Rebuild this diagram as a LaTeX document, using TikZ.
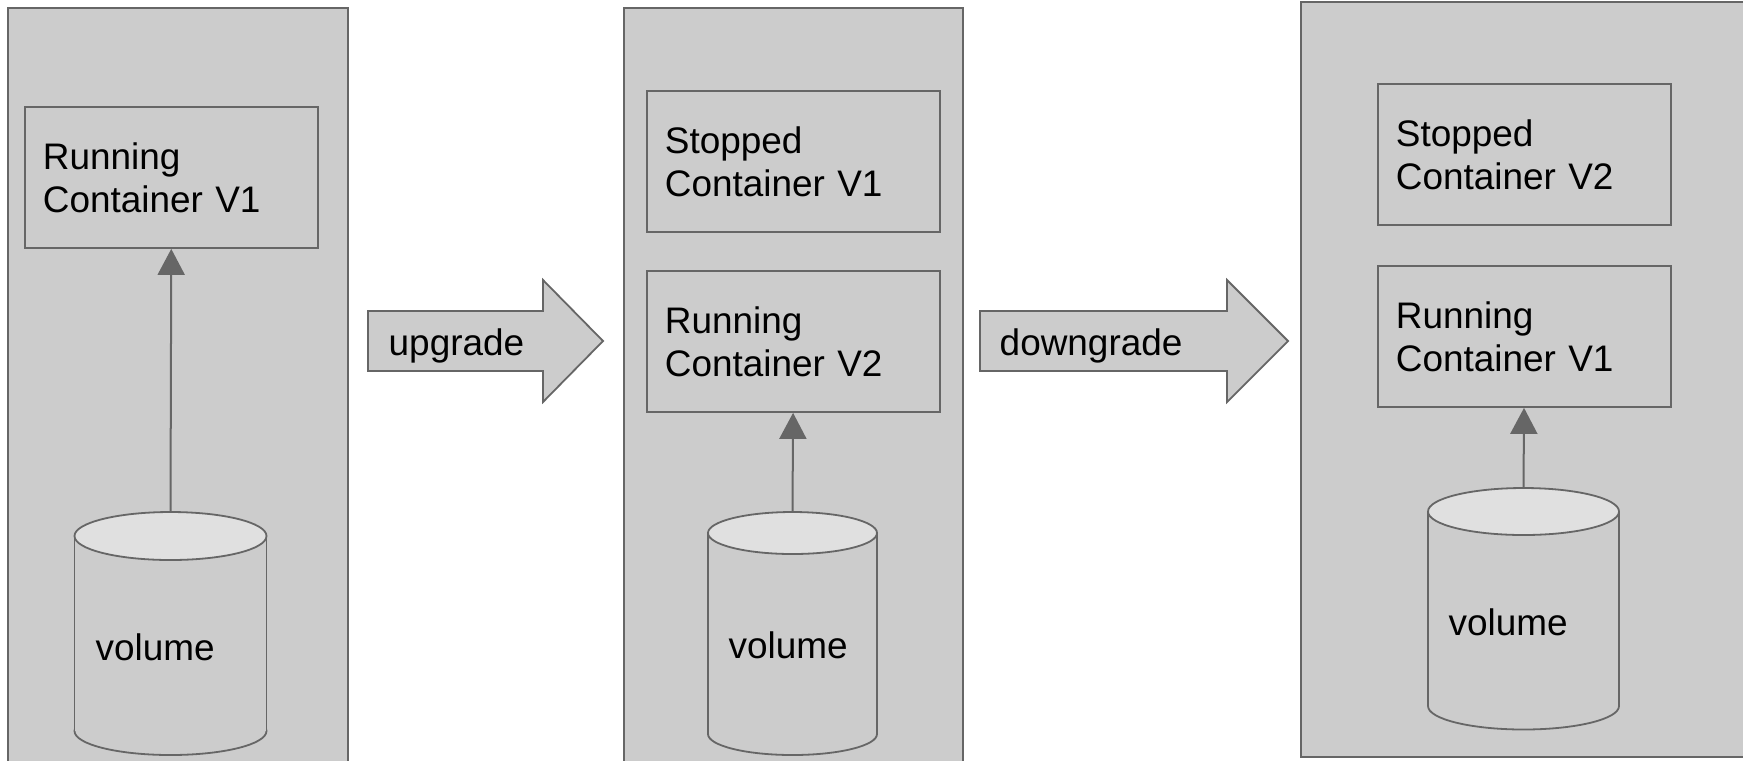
\documentclass[tikz,border=0pt]{standalone}
\usepackage{fontspec}
\setmainfont{Liberation Sans}
\usetikzlibrary{arrows.meta}
\definecolor{panelgray}{HTML}{CCCCCC}
\definecolor{topgray}{HTML}{E0E0E0}
\definecolor{edgegray}{HTML}{666666}
\tikzset{
x=0.01cm, y=-0.01cm, % one unit is one pixel of the sketch, y grows downwards
every node/.style={font=\fontsize{10.5}{12.2}\selectfont},
stage/.style={draw=edgegray, fill=panelgray, line width=0.018cm}, % the host panels
ctrbox/.style={draw=edgegray, fill=panelgray, line width=0.018cm, anchor=north west,
  minimum width=2.93cm, minimum height=1.41cm, text width=2.57cm, inner xsep=0.18cm, align=left}, % a container
drumline/.style={draw=edgegray, line width=0.018cm},
bigarrow/.style={draw=edgegray, fill=panelgray, line width=0.018cm}, % upgrade / downgrade
lbl/.style={anchor=base west, inner sep=0pt},
feed/.style={draw=edgegray, line width=0.02cm, -{Triangle[width=0.27cm, length=0.26cm]}}, % volume to container
}
% #1 name of the top point, #2 centre x, #3 top y, #4 bottom y, #5 x radius, #6 y radius
\newcommand{\drum}[6]{%
\draw[drumline, fill=panelgray] (#2,#4) ellipse [x radius=#5, y radius=#6];
\fill[panelgray] (#2-#5,#3) rectangle (#2+#5,#4);
\draw[drumline] (#2-#5,#3) -- (#2-#5,#4) (#2+#5,#3) -- (#2+#5,#4);
\draw[drumline, fill=topgray] (#2,#3) ellipse [x radius=#5, y radius=#6];
\coordinate (#1) at (#2,#3-#6);
}

\begin{document}
\begin{tikzpicture}
\useasboundingbox (0,0) rectangle (1743,760);
\clip (0,0) rectangle (1743,760);

% panels
\draw[stage] (8,8) rectangle (348,770);
\draw[stage] (624,8) rectangle (963,770);
\draw[stage] (1301,2) rectangle (1760,757);

% containers
\node[ctrbox] (run1) at (24,106) {Running\\Container V1};
\node[ctrbox] (stop1) at (646,90) {Stopped\\Container V1};
\node[ctrbox] (run2) at (646,270) {Running\\Container V2};
\node[ctrbox] (stop2) at (1377,83) {Stopped\\Container V2};
\node[ctrbox] (run3) at (1377,265) {Running\\Container V1};

% volumes
\drum{vol1}{170.5}{536}{731}{96}{24}
\drum{vol2}{792.5}{533}{734}{84.5}{21}
\drum{vol3}{1523.5}{511.5}{706}{95.5}{23.5}
\node[lbl] (v1) at (95,660) {volume};
\node[lbl] (v2) at (728,658) {volume};
\node[lbl] (v3) at (1448,635) {volume};

% edges
\path (vol1) edge [feed] (run1); % volume to V1
\path (vol2) edge [feed] (run2); % volume to V2
\path (vol3) edge [feed] (run3); % volume back to V1

% transitions
\draw[bigarrow] (368,311) -- (543,311) -- (543,280) -- (603,341) -- (543,402) -- (543,371) -- (368,371) -- cycle;
\node[lbl] (up) at (388,355) {upgrade};
\draw[bigarrow] (980,311) -- (1227,311) -- (1227,280) -- (1288,341) -- (1227,402) -- (1227,371) -- (980,371) -- cycle;
\node[lbl] (down) at (999,355) {downgrade};
\end{tikzpicture}
\end{document}
